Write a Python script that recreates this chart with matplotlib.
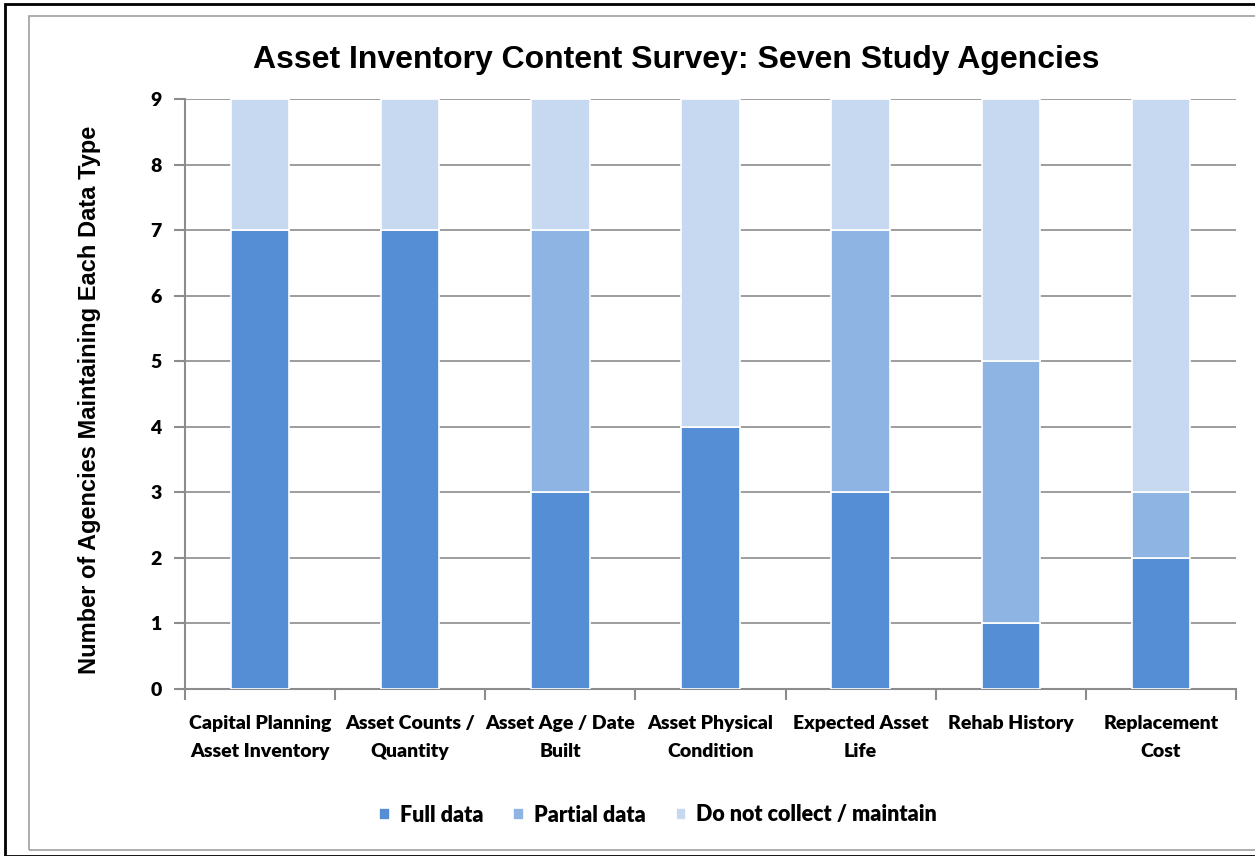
import matplotlib.pyplot as plt
import numpy as np
from matplotlib.patches import Rectangle

# survey data
categories = ['Capital Planning\nAsset Inventory', 'Asset Counts /\nQuantity',
              'Asset Age / Date\nBuilt', 'Asset Physical\nCondition',
              'Expected Asset\nLife', 'Rehab History', 'Replacement\nCost']
full_data = [7, 7, 3, 4, 3, 1, 2]
partial_data = [0, 0, 4, 0, 4, 4, 1]
not_collected = [2, 2, 2, 5, 2, 4, 6]

series_names = ['Full data', 'Partial data', 'Do not collect / maintain']
colors = ['#558ED5', '#8EB4E3', '#C6D9F1']

fig = plt.figure(figsize=(12.55, 8.56), dpi=100)

# frame lines around the chart
fig.patches.append(Rectangle((5/1255, 0), 1.2, 1 - 4/856, transform=fig.transFigure,
                             fill=False, edgecolor='black', linewidth=2))
fig.patches.append(Rectangle((29/1255, 1 - 850/856), 1.2, (850 - 16)/856,
                             transform=fig.transFigure, fill=False,
                             edgecolor='#A0A0A0', linewidth=1.2))

ax = fig.add_axes([185/1255, 1 - 689/856, (1236 - 185)/1255, (689 - 99)/856])

x = np.arange(len(categories))
w = 0.39
bottom = np.zeros(len(categories))
for vals, name, c in zip([full_data, partial_data, not_collected], series_names, colors):
    ax.bar(x, vals, w, bottom=bottom, color=c, edgecolor='white', linewidth=1.2,
           label=name, zorder=3)
    bottom += np.array(vals)

ax.set_xlim(-0.5, len(categories) - 0.5)
ax.set_ylim(0, 9)
ax.set_yticks(range(10))
ax.yaxis.grid(True, color='#8C8C8C', linewidth=1.2, zorder=0)
ax.set_axisbelow(True)

for s in ['top', 'right']:
    ax.spines[s].set_visible(False)
for s in ['left', 'bottom']:
    ax.spines[s].set_color('#8C8C8C')
    ax.spines[s].set_linewidth(1.5)

ax.set_xticks(x)
ax.set_xticklabels(categories, fontfamily='Lato', fontweight='heavy', fontsize=14,
                   linespacing=1.75)
ax.tick_params(axis='x', which='major', length=0, pad=19)
ax.set_xticks(np.arange(-0.5, len(categories)), minor=True)
ax.tick_params(axis='x', which='minor', length=8, width=1.5, color='#8C8C8C', direction='out')
ax.tick_params(axis='y', length=8, width=1.5, color='#8C8C8C', pad=9)
for lab in ax.get_yticklabels():
    lab.set_fontfamily('Lato')
    lab.set_fontweight('heavy')
    lab.set_fontsize(14)

ax.set_ylabel('Number of Agencies Maintaining Each Data Type', fontfamily='Liberation Sans',
              fontweight='bold', fontsize=17)
ax.yaxis.set_label_coords(-0.080, 0.49)

fig.text(676/1255, 1 - 60/856, 'Asset Inventory Content Survey: Seven Study Agencies',
         ha='center', va='center', fontfamily='Liberation Sans', fontweight='bold',
         fontsize=23)

fig.legend(loc='center', bbox_to_anchor=(658/1255, 1 - 815/856), ncol=3, frameon=False,
           prop={'family': 'Lato', 'weight': 'heavy', 'size': 15.5},
           handlelength=0.5, handleheight=0.5, handletextpad=0.45, columnspacing=1.4)

plt.savefig('out.png', dpi=100)
